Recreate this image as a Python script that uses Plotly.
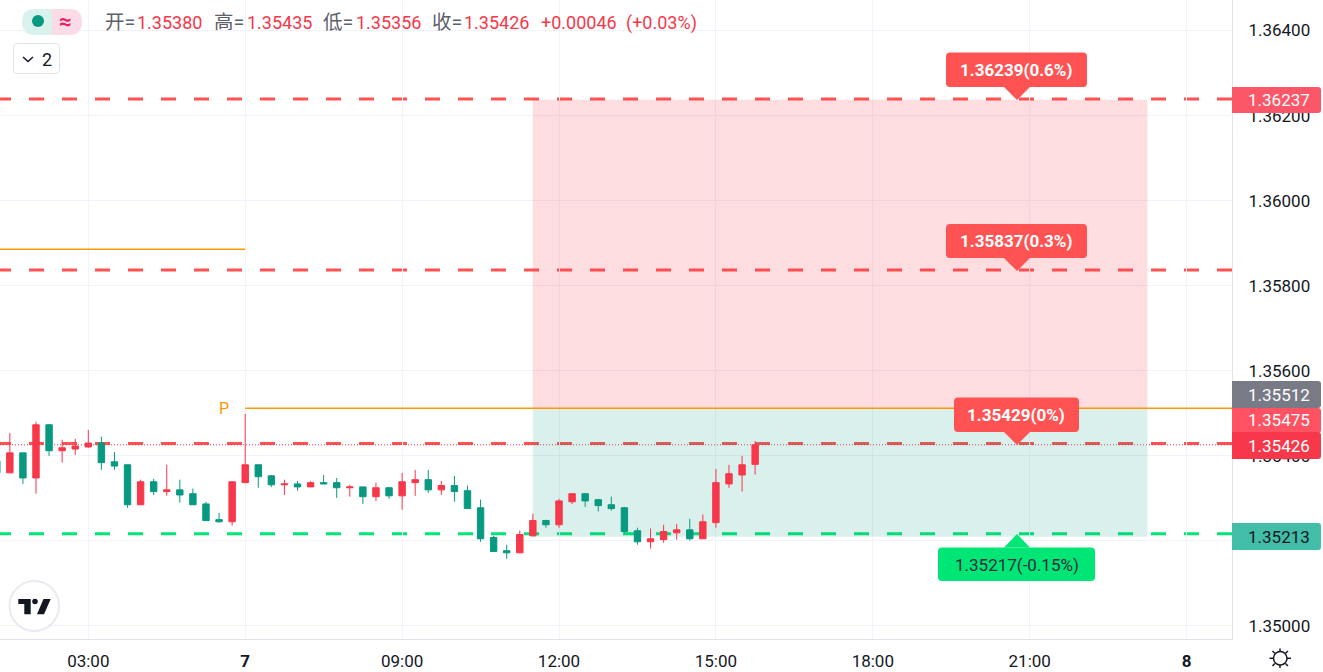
import plotly.graph_objects as go

W, H = 1323, 672
PLOT_W, PLOT_H = 1232, 639

bar_index = list(range(-7, 52))
opens = [1.35388,1.35360,1.35407,1.35348,1.35473,1.35412,1.35416,1.35421,1.35430,1.35386,
         1.35379,1.35285,1.35339,1.35316,1.35320,1.35311,1.35287,1.35250,1.35245,1.35337,
         1.35379,1.35353,1.35332,1.35334,1.35327,1.35337,1.35337,1.35325,1.35327,1.35304,
         1.35325,1.35306,1.35337,1.35344,1.35320,1.35330,1.35318,1.35278,1.35208,1.35177,
         1.35172,1.35212,1.35248,1.35238,1.35292,1.35311,1.35297,1.35285,1.35278,1.35224,
         1.35198,1.35203,1.35219,1.35226,1.35205,1.35243,1.35334,1.35355,1.35380]
highs = [1.35388,1.35454,1.35407,1.35480,1.35475,1.35438,1.35440,1.35461,1.35445,1.35409,
         1.35379,1.35344,1.35346,1.35379,1.35344,1.35323,1.35292,1.35266,1.35339,1.35499,
         1.35379,1.35355,1.35344,1.35341,1.35341,1.35355,1.35348,1.35332,1.35327,1.35337,
         1.35327,1.35360,1.35367,1.35367,1.35341,1.35353,1.35330,1.35297,1.35212,1.35191,
         1.35224,1.35264,1.35250,1.35299,1.35311,1.35311,1.35299,1.35304,1.35280,1.35231,
         1.35229,1.35238,1.35240,1.35252,1.35262,1.35369,1.35379,1.35400,1.35435]
lows = [1.35360,1.35360,1.35334,1.35311,1.35400,1.35384,1.35402,1.35419,1.35367,1.35367,
        1.35278,1.35285,1.35308,1.35306,1.35290,1.35285,1.35248,1.35243,1.35236,1.35337,
        1.35325,1.35327,1.35308,1.35318,1.35327,1.35334,1.35301,1.35304,1.35287,1.35294,
        1.35299,1.35273,1.35306,1.35313,1.35308,1.35292,1.35276,1.35198,1.35175,1.35158,
        1.35172,1.35210,1.35231,1.35231,1.35287,1.35280,1.35269,1.35271,1.35219,1.35191,
        1.35182,1.35196,1.35203,1.35201,1.35205,1.35231,1.35325,1.35316,1.35356]
closes = [1.35360,1.35407,1.35348,1.35473,1.35412,1.35419,1.35423,1.35430,1.35384,1.35376,
          1.35285,1.35339,1.35316,1.35320,1.35308,1.35285,1.35248,1.35245,1.35339,1.35379,
          1.35351,1.35332,1.35334,1.35327,1.35337,1.35334,1.35325,1.35327,1.35304,1.35325,
          1.35306,1.35339,1.35344,1.35320,1.35330,1.35316,1.35276,1.35205,1.35175,1.35172,
          1.35215,1.35248,1.35238,1.35294,1.35311,1.35294,1.35283,1.35276,1.35222,1.35198,
          1.35205,1.35222,1.35226,1.35205,1.35245,1.35337,1.35358,1.35379,1.35426]

x_ticks = [0, 12, 24, 36, 48, 60, 72, 84]
x_labels = ["03:00", "<b>7</b>", "09:00", "12:00", "15:00", "18:00", "21:00", "<b>8</b>"]
y_ticks = [1.350, 1.352, 1.354, 1.356, 1.358, 1.360, 1.362, 1.364]
y_labels = ["1.35000", "1.35200", "1.35400", "1.35600", "1.35800", "1.36000", "1.36200", "1.36400"]

target_prices = [1.36239, 1.35837, 1.35429]
stop_price = 1.35217
last_close = 1.35426
pivot_old = 1.35886
pivot_new = 1.35512
box_left, box_right = 34, 81
box_top, box_mid, box_bottom = 1.36237, 1.35512, 1.35210

UP, DOWN = "#f7374a", "#089981"
RED, GREEN = "#ff5252", "#00e676"
ORANGE = "#ff9800"
FONT = "Roboto, 'Noto Sans CJK SC', sans-serif"
INK = "#131722"
GREY = "#5d606b"
BIG = 17


def px(v):
    return v / PLOT_W


def py(v):
    return 1 - v / PLOT_H


def pt(x, y):
    return f"{px(x):.6f},{py(y):.6f}"


def round_box(x0, y0, x1, y1, r=(4, 4, 4, 4)):
    tl, tr, br, bl = r
    return (f"M{pt(x0 + tl, y0)} L{pt(x1 - tr, y0)} Q{pt(x1, y0)} {pt(x1, y0 + tr)} "
            f"L{pt(x1, y1 - br)} Q{pt(x1, y1)} {pt(x1 - br, y1)} "
            f"L{pt(x0 + bl, y1)} Q{pt(x0, y1)} {pt(x0, y1 - bl)} "
            f"L{pt(x0, y0 + tl)} Q{pt(x0, y0)} {pt(x0 + tl, y0)} Z")


def pshape(path, fill=None, line=None, width=0, layer="above"):
    return dict(type="path", xref="paper", yref="paper", path=path, layer=layer,
                fillcolor=fill or "rgba(0,0,0,0)",
                line=dict(color=line or "rgba(0,0,0,0)", width=width))


def text(s, x, y, color=INK, size=14, anchor="left"):
    return dict(text=s, xref="paper", yref="paper", x=px(x), y=py(y), xanchor=anchor,
                yanchor="middle", showarrow=False, font=dict(color=color, size=size, family=FONT),
                borderpad=0, borderwidth=0)


shapes = []
annots = []

# risk / reward zones
shapes.append(dict(type="rect", xref="x", yref="y", x0=box_left, x1=box_right, y0=box_mid, y1=box_top,
                   fillcolor="rgba(247,55,74,0.17)", line_width=0, layer="between"))
shapes.append(dict(type="rect", xref="x", yref="y", x0=box_left, x1=box_right, y0=box_bottom, y1=box_mid,
                   fillcolor="rgba(8,153,129,0.15)", line_width=0, layer="between"))

# dashed levels
for p in target_prices:
    shapes.append(dict(type="line", xref="paper", yref="y", x0=px(-4), x1=1, y0=p, y1=p, layer="between",
                       line=dict(color=RED, width=3, dash="15px,18px")))
shapes.append(dict(type="line", xref="paper", yref="y", x0=px(-4), x1=1, y0=stop_price, y1=stop_price,
                   layer="between", line=dict(color=GREEN, width=3, dash="15px,18px")))
shapes.append(dict(type="line", xref="paper", yref="y", x0=0, x1=1, y0=last_close, y1=last_close, layer="between",
                   line=dict(color=UP, width=1, dash="1px,2px")))

# pivot lines
shapes.append(dict(type="line", xref="x", yref="y", x0=-8, x1=12, y0=pivot_old, y1=pivot_old, layer="between",
                   line=dict(color=ORANGE, width=1.5)))
shapes.append(dict(type="line", xref="x", yref="y", x0=12, x1=88, y0=pivot_new, y1=pivot_new, layer="between",
                   line=dict(color=ORANGE, width=1.5)))
annots.append(text("P", 223.5, 408, ORANGE, 16, "center"))

# callouts
for (x0, y0, x1, y1, tip, s) in [(946, 52.5, 1087, 87, 100, "1.36239(0.6%)"),
                                 (946, 224, 1087, 258, 271, "1.35837(0.3%)"),
                                 (954, 397.5, 1079, 432, 445, "1.35429(0%)")]:
    shapes.append(pshape(round_box(x0, y0, x1, y1), RED))
    shapes.append(pshape(f"M{pt(1004, y1)} L{pt(1017, tip)} L{pt(1030, y1)} Z", RED))
    annots.append(text(f"<b>{s}</b>", 1016.5, (y0 + y1) / 2, "#ffffff", BIG, "center"))
shapes.append(pshape(round_box(938, 547.5, 1095, 581), GREEN))
shapes.append(pshape(f"M{pt(1004, 547.5)} L{pt(1017, 534)} L{pt(1030, 547.5)} Z", GREEN))
annots.append(text("1.35217(-0.15%)", 1017, 565, "#2a2e39", BIG, "center"))

# price tags
for (y0, y1, col, s, tcol) in [(87, 113, "#fc5669", "1.36237", "#ffffff"),
                               (381, 408, "#787b86", "1.35512", "#ffffff"),
                               (408, 433, "#ff5263", "1.35475", "#ffffff"),
                               (432, 459, UP, "1.35426", "#ffffff"),
                               (523, 550, "#42bda8", "1.35213", INK)]:
    shapes.append(pshape(round_box(1232, y0, 1321, y1, (0, 3, 3, 0)), col))
    annots.append(text(s, 1248, (y0 + y1) / 2, tcol, BIG))

# legend pill
shapes.append(pshape(round_box(22, 9, 52, 35, (13, 0, 0, 13)), "#d9f2ed"))
shapes.append(pshape(round_box(52, 9, 82, 35, (0, 13, 13, 0)), "#fbdce6"))
shapes.append(dict(type="circle", xref="paper", yref="paper", x0=px(32), x1=px(44), y0=py(27), y1=py(15),
                   fillcolor=DOWN, line_width=0, layer="above"))
annots.append(text("<b>≈</b>", 65.5, 21, "#e91e63", 22, "center"))
for s, x in [("开=", 105), ("高=", 214), ("低=", 323), ("收=", 432)]:
    annots.append(text(s, x, 23, GREY, 19.5))
for s, x in [("1.35380", 137), ("1.35435", 246.5), ("1.35356", 355.5), ("1.35426", 464),
             ("+0.00046", 541), ("(+0.03%)", 626)]:
    annots.append(text(s, x, 23, UP, 18))

# collapse button
shapes.append(pshape(round_box(13.5, 43.5, 59.5, 73.5), "#ffffff", "#e0e3eb", 1))
shapes.append(pshape(f"M{pt(23, 57)} L{pt(28, 61.5)} L{pt(33, 57)}", None, INK, 1.5))
annots.append(text("2", 47, 59, INK, 18, "center"))

# logo
shapes.append(dict(type="circle", xref="paper", yref="paper", x0=px(9.5), x1=px(59), y0=py(631), y1=py(581),
                   fillcolor="#ffffff", line=dict(color="#e9ebf0", width=2), layer="above"))
shapes.append(pshape(f"M{pt(18.3, 599)} L{pt(30.7, 599)} L{pt(30.7, 614.3)} L{pt(24.3, 614.3)} "
                     f"L{pt(24.3, 604)} L{pt(18.3, 604)} Z", INK))
shapes.append(pshape(f"M{pt(43.5, 599)} L{pt(50.7, 599)} L{pt(44, 614.3)} L{pt(37, 614.3)} Z", INK))
shapes.append(dict(type="circle", xref="paper", yref="paper", x0=px(32.2), x1=px(37.8), y0=py(604.3), y1=py(598.7),
                   fillcolor=INK, line_width=0, layer="above"))

# settings gear
shapes.append(dict(type="circle", xref="paper", yref="paper", x0=px(1273.5), x1=px(1287), y0=py(665), y1=py(651.5),
                   fillcolor="rgba(0,0,0,0)", line=dict(color=INK, width=1.5), layer="above"))
for a, b, c, d in [(1280, 648.5, 1280, 651.5), (1280, 665, 1280, 668), (1269.5, 658.3, 1273, 658.3),
                   (1287, 658.3, 1291, 658.3), (1272.5, 651, 1274.8, 653.3), (1288, 651, 1285.5, 653.3),
                   (1272.5, 666, 1274.8, 663.5), (1288, 666, 1285.5, 663.5)]:
    shapes.append(pshape(f"M{pt(a, b)} L{pt(c, d)}", None, INK, 1.5))

fig = go.Figure(go.Candlestick(
    x=bar_index, open=opens, high=highs, low=lows, close=closes, whiskerwidth=0,
    increasing=dict(line=dict(color=UP, width=1), fillcolor=UP),
    decreasing=dict(line=dict(color=DOWN, width=1), fillcolor=DOWN),
    hoverinfo="skip", showlegend=False,
))

fig.update_layout(
    width=W, height=H, margin=dict(l=0, r=W - PLOT_W, t=0, b=H - PLOT_H),
    paper_bgcolor="#ffffff", plot_bgcolor="#ffffff", showlegend=False, boxgap=0.3,
    font=dict(family=FONT, color=INK, size=BIG),
    shapes=shapes, annotations=annots,
    xaxis=dict(range=[-6.753, 87.47], tickmode="array", tickvals=x_ticks, ticktext=x_labels,
               showgrid=True, gridcolor="#f0f3fa", gridwidth=1, showline=True, linecolor="#e0e3eb",
               linewidth=1, ticks="", zeroline=False, rangeslider=dict(visible=False),
               tickfont=dict(size=BIG, color=INK), ticklabelstandoff=7, automargin=False, tickangle=0),
    yaxis=dict(range=[1.349694, 1.364717], side="right", tickmode="array", tickvals=y_ticks, ticktext=y_labels,
               showgrid=True, gridcolor="#f0f3fa", gridwidth=1, showline=True, linecolor="#e0e3eb",
               linewidth=1, ticks="", zeroline=False, tickfont=dict(size=BIG, color=INK),
               ticklabelstandoff=12, automargin=False),
)

fig.write_html("out.html", config=dict(displayModeBar=False),
               post_script="document.body.style.margin='0';document.body.style.overflow='hidden';")
